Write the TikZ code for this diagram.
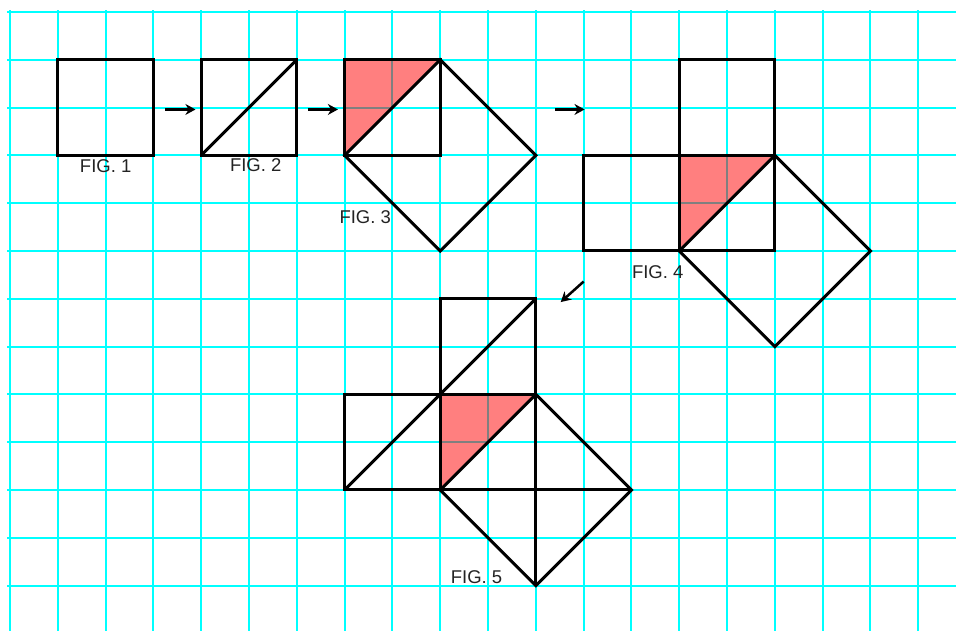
\documentclass[tikz,border=0pt]{standalone}
\usepackage{fontspec}
\setmainfont{Liberation Sans}
\usetikzlibrary{arrows.meta}
\definecolor{gridcyan}{RGB}{0,255,255}
\definecolor{lblgrey}{RGB}{35,35,35}
\tikzset{
    gridline/.style={color=gridcyan, line width=1.2pt},
    figline/.style={draw=black, line width=1.8pt, line join=miter},
    redpart/.style={fill=red, fill opacity=0.5},
    figlbl/.style={font=\fontsize{11}{13}\selectfont, text=lblgrey, inner sep=1pt},
    steparr/.style={-{Stealth[length=6pt, width=6.5pt]}, line width=1.5pt, black}
}
\begin{document}
\begin{tikzpicture}
    \useasboundingbox (-0.21,-0.96) rectangle (19.79,12.25);
    \fill[white] (-0.21,-0.96) rectangle (19.79,12.25);
    % graph paper
    \foreach \y in {0,...,12} \draw[gridline] (-0.06,\y) -- (19.79,\y);
    \foreach \x in {0,...,19} \draw[gridline] (\x,12.04) -- (\x,-0.96);
    % red triangles
    \fill[redpart] (7,11) -- (9,11) -- (7,9) -- cycle;
    \fill[redpart] (14,9) -- (16,9) -- (14,7) -- cycle;
    \fill[redpart] (9,4) -- (11,4) -- (9,2) -- cycle;
    % fig 1
    \draw[figline] (1,9) rectangle (3,11);
    % fig 2
    \draw[figline] (4,9) rectangle (6,11);
    \draw[figline] (4,9) -- (6,11);
    % fig 3
    \draw[figline] (7,9) rectangle (9,11);
    \draw[figline] (7,9) -- (9,11) -- (11,9) -- (9,7) -- cycle;
    % fig 4
    \draw[figline] (14,7) rectangle (16,9);
    \draw[figline] (14,9) rectangle (16,11);
    \draw[figline] (12,7) rectangle (14,9);
    \draw[figline] (14,7) -- (16,9) -- (18,7) -- (16,5) -- cycle;
    % fig 5
    \draw[figline] (9,2) rectangle (11,4);
    \draw[figline] (9,4) rectangle (11,6);
    \draw[figline] (9,4) -- (11,6);
    \draw[figline] (7,2) rectangle (9,4);
    \draw[figline] (7,2) -- (9,4);
    \draw[figline] (9,2) -- (11,4) -- (13,2) -- (11,0) -- cycle;
    \draw[figline] (9,2) -- (13,2);
    \draw[figline] (11,4) -- (11,0);
    % labels
    \node[figlbl] (fig1lbl) at (2.0,8.77) {FIG. 1};
    \node[figlbl] (fig2lbl) at (5.14,8.79) {FIG. 2};
    \node[figlbl] (fig3lbl) at (7.43,7.71) {FIG. 3};
    \node[figlbl] (fig4lbl) at (13.55,6.56) {FIG. 4};
    \node[figlbl] (fig5lbl) at (9.76,0.18) {FIG. 5};
    % arrows between figures
    \coordinate (a12s) at (3.24,9.96);
    \coordinate (a12e) at (3.88,9.96);
    \coordinate (a23s) at (6.23,9.96);
    \coordinate (a23e) at (6.86,9.96);
    \coordinate (a34s) at (11.4,9.96);
    \coordinate (a34e) at (12.02,9.96);
    \coordinate (a45s) at (12.0,6.36);
    \coordinate (a45e) at (11.52,5.93);
    \draw[steparr] (a12s) -- (a12e);
    \draw[steparr] (a23s) -- (a23e);
    \draw[steparr] (a34s) -- (a34e);
    \draw[steparr] (a45s) -- (a45e);
\end{tikzpicture}
\end{document}
